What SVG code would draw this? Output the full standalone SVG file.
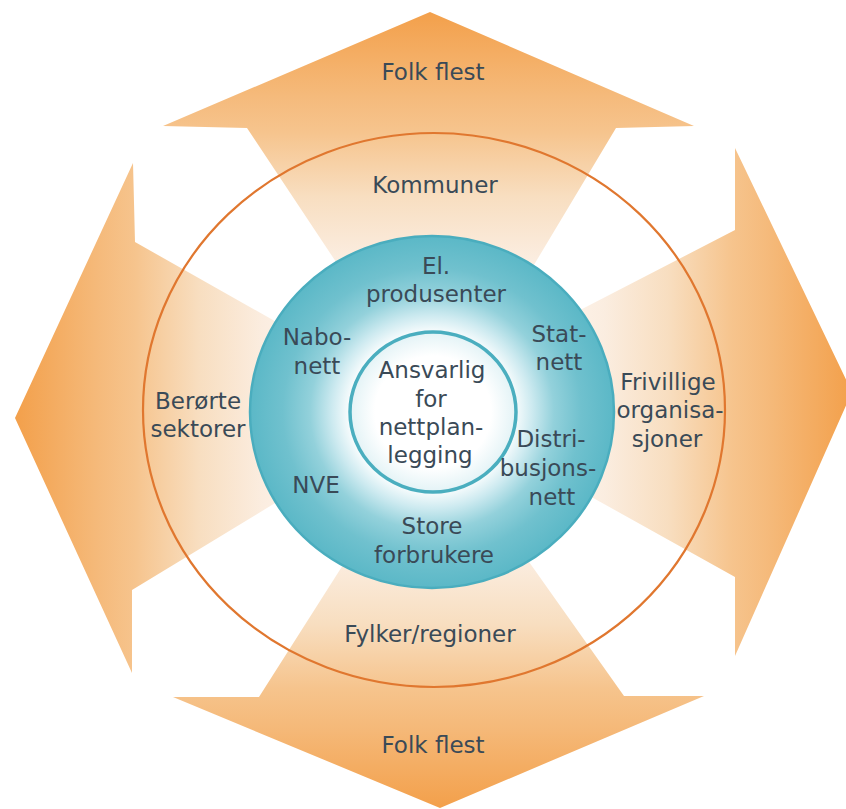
<svg xmlns="http://www.w3.org/2000/svg" xmlns:xlink="http://www.w3.org/1999/xlink" width="846" height="809" viewBox="0 0 846 809">
<style>
  text { font-family: "DejaVu Sans", "Open Sans", sans-serif; font-size: 23px; fill: #3A4A57; text-anchor: middle; }
  .ring { fill: none; stroke: #E0772F; stroke-width: 2.2; }
</style>
<defs>
  <linearGradient id="og">
    <stop offset="0" stop-color="#F3A04B"/>
    <stop offset="0.21" stop-color="#F5BA7B"/>
    <stop offset="0.30" stop-color="#F6C48D"/>
    <stop offset="0.46" stop-color="#F8DEC0"/>
    <stop offset="0.62" stop-color="#FBEDE0"/>
    <stop offset="0.82" stop-color="#FFF9F3"/>
    <stop offset="1" stop-color="#FFFFFF"/>
  </linearGradient>
  <linearGradient id="gTop" xlink:href="#og" gradientUnits="userSpaceOnUse" x1="430" y1="12" x2="430" y2="412"/>
  <linearGradient id="gBot" xlink:href="#og" gradientUnits="userSpaceOnUse" x1="440" y1="808" x2="440" y2="408"/>
  <linearGradient id="gLeft" xlink:href="#og" gradientUnits="userSpaceOnUse" x1="15" y1="418" x2="415" y2="418"/>
  <linearGradient id="gRight" xlink:href="#og" gradientUnits="userSpaceOnUse" x1="852" y1="392" x2="452" y2="392"/>
  <radialGradient id="teal" cx="0.5" cy="0.5" r="0.5">
    <stop offset="0" stop-color="#FFFFFF"/>
    <stop offset="0.44" stop-color="#FFFFFF"/>
    <stop offset="0.55" stop-color="#CDEAF0"/>
    <stop offset="0.67" stop-color="#93D1DB"/>
    <stop offset="0.82" stop-color="#70C1CE"/>
    <stop offset="1" stop-color="#5BB8C7"/>
  </radialGradient>
  <radialGradient id="core" cx="0.5" cy="0.5" r="0.5">
    <stop offset="0" stop-color="#FFFFFF"/>
    <stop offset="0.7" stop-color="#FFFFFF"/>
    <stop offset="1" stop-color="#E3F3F6"/>
  </radialGradient>
</defs>

<g id="connectors">
  <polygon id="arrow-top" fill="url(#gTop)" points="430,12 694,126 616,128 441,420 247,128 163,126"/>
  <polygon id="arrow-bottom" fill="url(#gBot)" points="440,808 704,696 624,696 432,425 259,697 173,697"/>
  <polygon id="arrow-left" fill="url(#gLeft)" points="15,418 133,163 135,242 430,409 132,590 132,673"/>
  <polygon id="arrow-right" fill="url(#gRight)" points="852,392 735,148 735,230 412,397 735,577 735,656"/>
</g>

<ellipse id="outer-ring" class="ring" cx="434" cy="410" rx="291" ry="277"/>

<g id="teal-ring">
  <ellipse cx="432" cy="412" rx="182" ry="176" fill="url(#teal)" stroke="#4AADBE" stroke-width="2.5"/>
</g>

<g id="core-node">
  <ellipse cx="433" cy="412" rx="83" ry="80" fill="url(#core)" stroke="#4AAEBF" stroke-width="3.5"/>
  <text x="432" y="378">Ansvarlig</text>
  <text x="431" y="407">for</text>
  <text x="431" y="435">nettplan-</text>
  <text x="430" y="463">legging</text>
</g>

<g id="folk-flest-top"><text x="433" y="80">Folk flest</text></g>
<g id="kommuner"><text x="435" y="193">Kommuner</text></g>
<g id="el-produsenter"><text x="436" y="274">El.</text><text x="436" y="302">produsenter</text></g>
<g id="nabonett"><text x="317" y="345">Nabo-</text><text x="317" y="374">nett</text></g>
<g id="statnett"><text x="559" y="342">Stat-</text><text x="559" y="370">nett</text></g>
<g id="distribusjonsnett"><text x="551" y="447">Distri-</text><text x="548" y="476">busjons-</text><text x="552" y="505">nett</text></g>
<g id="nve"><text x="316" y="493">NVE</text></g>
<g id="store-forbrukere"><text x="432" y="534">Store</text><text x="434" y="563">forbrukere</text></g>
<g id="berorte-sektorer"><text x="198" y="409">Berørte</text><text x="198" y="437">sektorer</text></g>
<g id="frivillige"><text x="668" y="390">Frivillige</text><text x="670" y="418">organisa-</text><text x="667" y="447">sjoner</text></g>
<g id="fylker"><text x="430" y="642">Fylker/regioner</text></g>
<g id="folk-flest-bottom"><text x="433" y="753">Folk flest</text></g>
</svg>
